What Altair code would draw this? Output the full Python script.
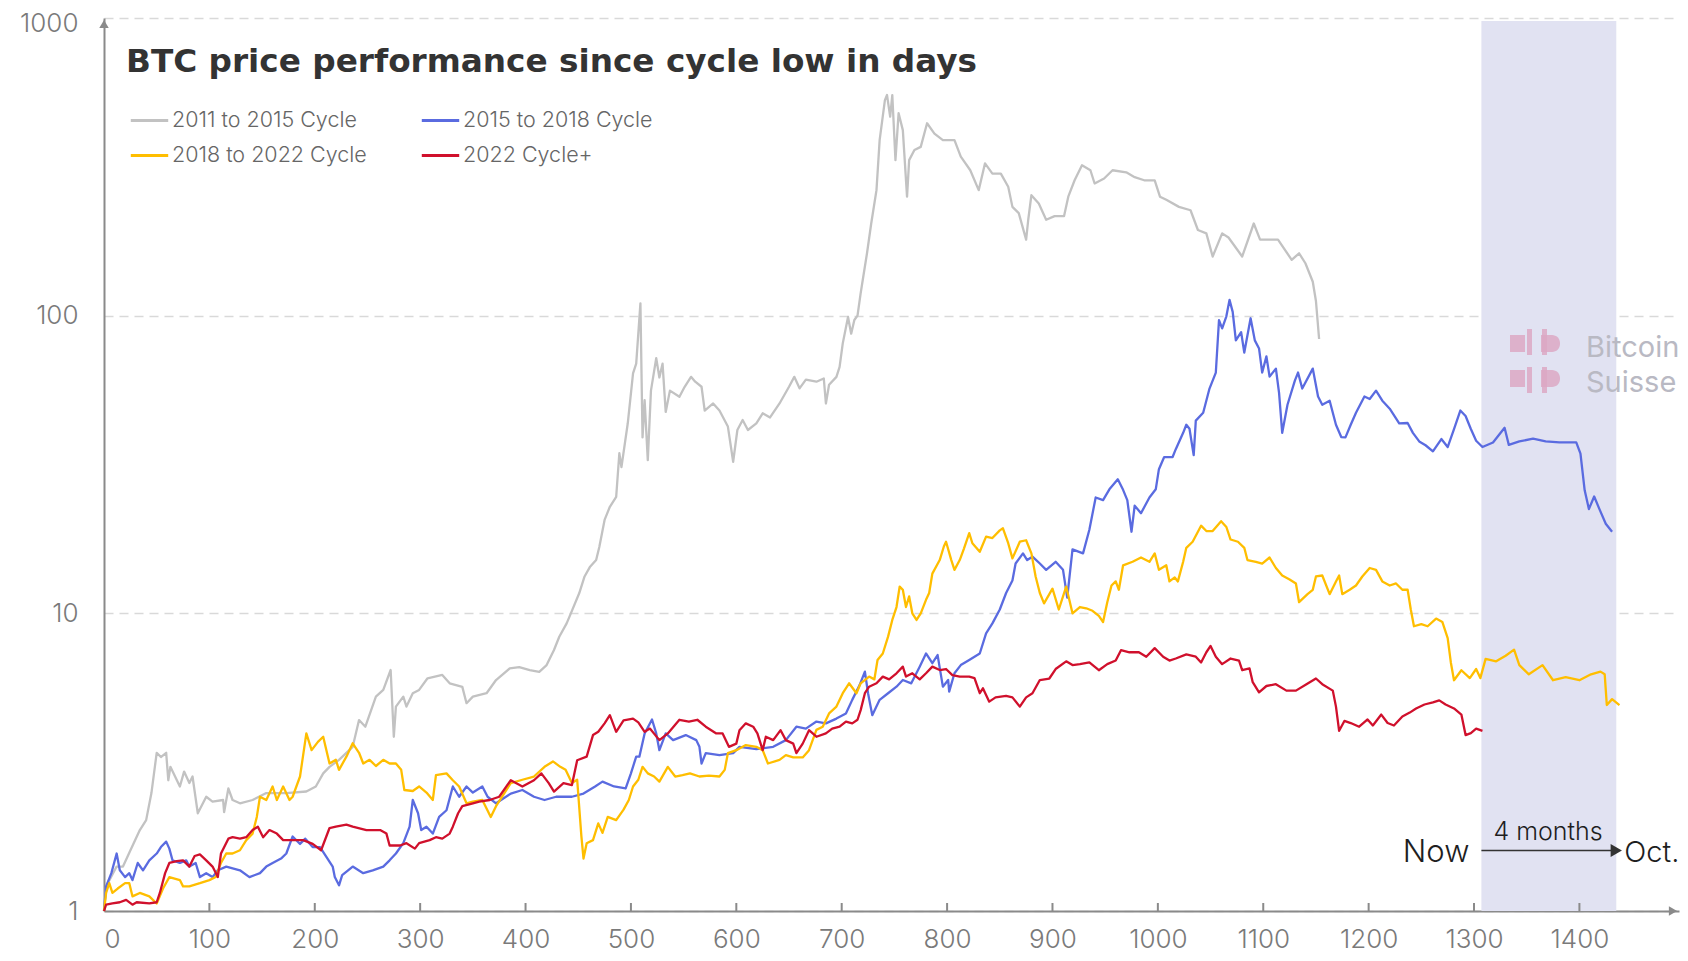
import altair as alt
import pandas as pd

series_names = ["2011 to 2015 Cycle", "2015 to 2018 Cycle", "2018 to 2022 Cycle", "2022 Cycle+"]
series_colors = ["#c2c2c2", "#5a6be0", "#ffbe00", "#d0102c"]

gray_days = [0, 2, 12, 18, 24, 34, 40, 45, 50, 54, 59, 61, 63, 72, 76, 81, 84, 89, 97, 103, 113, 114, 118, 122, 129, 141, 154, 173, 192, 201, 208, 214, 223, 236, 242, 248, 258, 265, 272, 275, 277, 284, 287, 293, 299, 307, 321, 328, 340, 344, 350, 363, 372, 385, 394, 404, 413, 420, 427, 432, 439, 443, 451, 456, 461, 467, 470, 475, 480, 486, 489, 491, 497, 502, 505, 509, 511, 513, 516, 519, 524, 527, 530, 533, 537, 546, 551, 557, 561, 567, 570, 578, 584, 592, 597, 601, 606, 611, 619, 625, 632, 641, 650, 655, 660, 666, 676, 683, 685, 688, 695, 698, 701, 706, 709, 712, 715, 718, 720, 724, 728, 733, 736, 741, 743, 746, 748, 751, 754, 758, 762, 764, 769, 775, 781, 788, 796, 807, 813, 822, 830, 836, 843, 851, 858, 862, 868, 875, 877, 880, 887, 894, 902, 911, 915, 921, 928, 936, 940, 949, 957, 970, 978, 987, 997, 1002, 1008, 1020, 1031, 1038, 1046, 1052, 1061, 1067, 1080, 1091, 1097, 1114, 1127, 1134, 1140, 1147, 1150, 1153]
gray_vals = [1.0, 1.21, 1.41, 1.41, 1.57, 1.87, 2.02, 2.49, 3.40, 3.29, 3.40, 2.75, 3.05, 2.62, 2.94, 2.69, 2.83, 2.13, 2.42, 2.33, 2.36, 2.15, 2.58, 2.36, 2.30, 2.36, 2.49, 2.49, 2.52, 2.62, 2.90, 3.05, 3.22, 3.56, 4.38, 4.16, 5.25, 5.53, 6.45, 3.85, 4.86, 5.25, 4.86, 5.39, 5.53, 6.05, 6.21, 5.82, 5.66, 4.99, 5.25, 5.39, 5.97, 6.53, 6.6, 6.45, 6.36, 6.7, 7.53, 8.34, 9.25, 10.0, 11.7, 13.3, 14.3, 15.1, 16.7, 20.6, 22.8, 24.6, 34.5, 31, 43.5, 64, 69, 110, 39, 52, 32.7, 56, 72, 62, 69, 47.5, 56, 53.4, 57.7, 62.3, 60, 57.7, 48, 50.7, 48, 42.4, 32.3, 41.3, 44.6, 41.3, 43.5, 47, 45.5, 50.7, 57.7, 62.3, 57, 61, 60, 61.5, 50.7, 58.6, 62.3, 67.3, 80.7, 99, 87, 96.7, 100, 119, 132, 162, 204, 264, 389, 530, 551, 466, 551, 333, 479, 420, 251, 333, 360, 369, 443, 409, 389, 389, 342, 308, 264, 325, 300, 300, 271, 232, 221, 180, 210, 254, 238, 210, 216, 216, 251, 285, 320, 308, 278, 289, 308, 303, 292, 285, 285, 251, 245, 232, 226, 194, 189, 158, 189, 183, 158, 204, 180, 180, 154, 162, 150, 130, 112, 83.5]

blue_days = [0, 2, 7, 12, 15, 20, 24, 27, 32, 37, 43, 50, 54, 59, 62, 65, 72, 78, 81, 87, 91, 97, 103, 108, 116, 129, 138, 148, 154, 160, 168, 173, 179, 186, 191, 198, 205, 211, 217, 219, 223, 226, 236, 246, 255, 265, 271, 277, 284, 290, 293, 298, 301, 306, 312, 318, 325, 331, 337, 344, 350, 359, 364, 372, 386, 397, 408, 418, 429, 444, 455, 466, 473, 484, 495, 500, 505, 508, 513, 520, 524, 527, 533, 540, 552, 562, 565, 567, 571, 584, 597, 603, 619, 635, 647, 657, 666, 676, 685, 695, 704, 710, 717, 722, 725, 729, 736, 744, 752, 758, 766, 774, 780, 786, 791, 796, 801, 802, 807, 813, 821, 831, 837, 843, 850, 856, 862, 865, 872, 876, 881, 888, 894, 903, 910, 914, 919, 929, 935, 941, 948, 954, 962, 967, 971, 975, 978, 984, 992, 998, 1001, 1006, 1014, 1017, 1024, 1027, 1030, 1034, 1036, 1043, 1049, 1055, 1058, 1061, 1065, 1068, 1071, 1074, 1079, 1082, 1088, 1092, 1096, 1099, 1103, 1106, 1112, 1115, 1118, 1123, 1130, 1133, 1137, 1147, 1152, 1156, 1163, 1169, 1174, 1178, 1183, 1188, 1196, 1201, 1207, 1213, 1220, 1229, 1237, 1242, 1248, 1254, 1261, 1269, 1275, 1281, 1287, 1292, 1297, 1302, 1308, 1318, 1329, 1333, 1343, 1356, 1368, 1381, 1397, 1401, 1405, 1409, 1414, 1419, 1425, 1431]
blue_vals = [1.0, 1.21, 1.34, 1.56, 1.37, 1.30, 1.34, 1.27, 1.45, 1.37, 1.48, 1.56, 1.64, 1.71, 1.62, 1.48, 1.45, 1.48, 1.41, 1.45, 1.30, 1.34, 1.30, 1.37, 1.41, 1.37, 1.30, 1.34, 1.41, 1.45, 1.50, 1.56, 1.78, 1.68, 1.75, 1.64, 1.64, 1.52, 1.41, 1.30, 1.22, 1.32, 1.41, 1.34, 1.37, 1.41, 1.48, 1.56, 1.69, 1.92, 2.36, 2.13, 1.87, 1.92, 1.82, 2.07, 2.18, 2.62, 2.42, 2.62, 2.5, 2.62, 2.42, 2.30, 2.48, 2.55, 2.42, 2.36, 2.42, 2.42, 2.48, 2.62, 2.72, 2.62, 2.58, 2.90, 3.3, 3.3, 3.95, 4.4, 3.95, 3.47, 3.95, 3.75, 3.9, 3.75, 3.56, 3.13, 3.39, 3.34, 3.39, 3.56, 3.5, 3.56, 3.75, 4.16, 4.1, 4.33, 4.27, 4.43, 4.61, 5.12, 5.74, 6.37, 5.39, 4.55, 5.12, 5.39, 5.67, 5.97, 5.82, 6.62, 7.33, 6.8, 7.24, 5.67, 5.97, 5.46, 6.29, 6.7, 6.97, 7.33, 8.57, 9.25, 10.3, 11.7, 12.9, 14.7, 15.9, 15.1, 15.5, 14.7, 14.0, 14.9, 14.0, 11.3, 16.4, 15.9, 19.1, 24.5, 24, 26.1, 28.2, 26, 24, 18.8, 23, 21.7, 24.5, 26.1, 30.5, 33.5, 33.5, 35.6, 40.4, 43, 41.7, 34, 44.4, 47.2, 56.9, 64.4, 96.5, 90.6, 99.5, 113, 103, 82.6, 88, 75.2, 98, 82.6, 77.6, 64.4, 73, 62.4, 66.4, 55, 40.4, 50.2, 60.5, 64.4, 56.9, 66.4, 53.5, 50.2, 51.8, 43, 39.1, 39, 43, 47.2, 53.5, 52.5, 56, 51.8, 48.7, 43.5, 43.6, 40.4, 37.8, 36.7, 35, 38.5, 36.2, 41.6, 48, 46, 41.6, 38, 36.2, 37.5, 42, 36.8, 37.8, 38.6, 37.8, 37.5, 37.5, 34.4, 25.9, 22.4, 24.7, 22.4, 20, 18.8]

yellow_days = [0, 2, 5, 8, 13, 20, 24, 27, 34, 43, 50, 56, 62, 72, 75, 81, 91, 100, 106, 111, 116, 122, 129, 135, 141, 145, 148, 154, 160, 164, 170, 176, 179, 186, 192, 197, 203, 208, 214, 220, 223, 230, 236, 242, 246, 252, 258, 265, 271, 277, 282, 285, 293, 299, 306, 312, 315, 325, 331, 337, 344, 350, 359, 367, 372, 386, 397, 408, 418, 426, 433, 438, 444, 449, 453, 455, 458, 464, 469, 473, 478, 486, 493, 498, 502, 507, 511, 516, 522, 527, 535, 542, 549, 556, 565, 574, 584, 589, 592, 600, 609, 619, 625, 630, 641, 647, 654, 663, 669, 676, 682, 688, 695, 701, 707, 714, 718, 726, 731, 734, 739, 744, 748, 752, 755, 758, 761, 764, 767, 771, 775, 780, 783, 786, 793, 797, 799, 804, 807, 812, 816, 821, 824, 831, 837, 843, 850, 853, 858, 862, 869, 875, 880, 884, 888, 892, 900, 906, 913, 919, 926, 932, 938, 944, 948, 952, 956, 960, 963, 967, 976, 984, 992, 997, 1001, 1008, 1011, 1016, 1019, 1024, 1027, 1033, 1041, 1046, 1052, 1060, 1065, 1069, 1076, 1082, 1085, 1093, 1099, 1106, 1112, 1118, 1125, 1131, 1134, 1142, 1147, 1150, 1156, 1163, 1169, 1172, 1175, 1182, 1188, 1194, 1201, 1207, 1213, 1220, 1226, 1232, 1237, 1240, 1243, 1250, 1256, 1264, 1270, 1275, 1278, 1281, 1288, 1296, 1302, 1306, 1311, 1321, 1330, 1338, 1343, 1352, 1365, 1375, 1387, 1400, 1411, 1420, 1424, 1426, 1431, 1438]
yellow_vals = [1.0, 1.15, 1.24, 1.15, 1.19, 1.24, 1.24, 1.12, 1.15, 1.12, 1.06, 1.19, 1.30, 1.27, 1.21, 1.21, 1.24, 1.27, 1.30, 1.45, 1.56, 1.56, 1.60, 1.73, 1.82, 2.07, 2.42, 2.36, 2.62, 2.36, 2.62, 2.36, 2.42, 2.83, 3.95, 3.47, 3.7, 3.85, 3.13, 3.22, 2.98, 3.3, 3.66, 3.4, 3.13, 3.22, 3.07, 3.22, 3.13, 3.13, 2.98, 2.55, 2.53, 2.62, 2.5, 2.36, 2.86, 2.9, 2.75, 2.62, 2.30, 2.33, 2.36, 2.07, 2.25, 2.69, 2.76, 2.83, 3.05, 3.18, 3.05, 2.98, 2.69, 2.76, 1.78, 1.50, 1.69, 1.73, 1.97, 1.83, 2.07, 2.02, 2.19, 2.36, 2.62, 2.76, 3.05, 2.9, 2.83, 2.72, 3.05, 2.83, 2.86, 2.9, 2.83, 2.85, 2.83, 2.98, 3.39, 3.47, 3.61, 3.56, 3.47, 3.13, 3.22, 3.34, 3.28, 3.28, 3.47, 4.06, 4.16, 4.61, 4.86, 5.39, 5.82, 5.39, 5.82, 6.13, 6.0, 6.97, 7.33, 8.35, 9.5, 10.5, 12.3, 12, 10.5, 11.4, 10, 9.5, 10, 11.1, 11.7, 13.6, 15.1, 16.8, 17.4, 15.1, 14, 15.1, 16.5, 18.6, 17.2, 16.1, 18.1, 17.9, 19, 19.3, 17.2, 15.3, 17.4, 17.6, 15.9, 13.3, 11.7, 10.8, 12.1, 10.3, 12.3, 10, 10.5, 10.4, 10.2, 9.8, 9.35, 10.9, 12.4, 12.8, 12, 14.5, 14.9, 15.4, 14.9, 15.9, 14, 14.5, 12.8, 13.2, 12.8, 14.9, 16.6, 17.4, 19.7, 18.9, 18.9, 20.4, 19.5, 17.7, 17.4, 16.6, 15.1, 14.9, 14.7, 15.4, 14.2, 13.4, 13, 12.6, 10.9, 11.6, 12, 13.3, 13.4, 11.6, 12.8, 13.4, 11.6, 12, 12.4, 13.3, 14.2, 14, 12.8, 12.4, 12.6, 12, 12, 10.3, 9.05, 9.2, 9.05, 9.6, 9.35, 8.26, 6.84, 5.96, 6.44, 6.06, 6.5, 6.06, 7.03, 6.9, 7.2, 7.55, 6.7, 6.24, 6.7, 5.96, 6.1, 5.96, 6.24, 6.37, 6.24, 4.92, 5.15, 4.92]

red_days = [0, 2, 8, 15, 21, 27, 31, 43, 50, 53, 58, 62, 69, 75, 81, 86, 91, 97, 103, 108, 111, 118, 122, 129, 135, 141, 146, 151, 157, 164, 170, 176, 183, 189, 198, 206, 214, 220, 230, 236, 249, 262, 268, 271, 281, 287, 295, 299, 309, 315, 321, 328, 331, 336, 340, 350, 356, 366, 375, 386, 397, 408, 415, 422, 427, 436, 444, 449, 458, 464, 469, 475, 480, 486, 493, 502, 507, 513, 518, 527, 535, 546, 555, 563, 571, 581, 587, 593, 600, 603, 609, 616, 620, 625, 628, 635, 642, 647, 654, 657, 663, 669, 676, 685, 691, 698, 704, 710, 715, 718, 722, 726, 733, 739, 745, 752, 758, 761, 767, 774, 780, 786, 793, 799, 805, 812, 821, 826, 831, 834, 840, 846, 856, 862, 869, 875, 881, 888, 897, 903, 913, 919, 926, 935, 944, 952, 960, 965, 973, 982, 989, 997, 1005, 1011, 1017, 1027, 1036, 1041, 1046, 1050, 1055, 1061, 1069, 1077, 1080, 1087, 1090, 1096, 1103, 1112, 1122, 1131, 1141, 1150, 1156, 1166, 1169, 1172, 1177, 1183, 1191, 1199, 1204, 1212, 1218, 1224, 1232, 1239, 1245, 1253, 1261, 1267, 1273, 1281, 1288, 1292, 1297, 1302, 1308]
red_vals = [1.0, 1.05, 1.06, 1.07, 1.09, 1.05, 1.07, 1.06, 1.07, 1.15, 1.34, 1.45, 1.47, 1.48, 1.41, 1.53, 1.55, 1.48, 1.41, 1.30, 1.56, 1.75, 1.77, 1.75, 1.77, 1.87, 1.92, 1.77, 1.87, 1.82, 1.73, 1.73, 1.73, 1.73, 1.68, 1.6, 1.9, 1.92, 1.95, 1.92, 1.87, 1.87, 1.82, 1.66, 1.66, 1.69, 1.62, 1.69, 1.73, 1.77, 1.75, 1.82, 1.92, 2.13, 2.25, 2.30, 2.33, 2.36, 2.42, 2.75, 2.62, 2.75, 2.9, 2.69, 2.52, 2.69, 2.65, 3.21, 3.3, 3.9, 4.0, 4.27, 4.55, 4.0, 4.37, 4.43, 4.3, 4.0, 4.1, 3.75, 3.95, 4.39, 4.33, 4.39, 4.16, 3.95, 3.95, 3.56, 3.65, 4.05, 4.27, 4.16, 3.95, 3.47, 3.85, 3.75, 4.05, 3.75, 3.65, 3.39, 3.65, 4.05, 3.85, 3.95, 4.1, 4.16, 4.33, 4.27, 4.39, 4.73, 5.39, 5.67, 5.82, 6.13, 6.0, 6.29, 6.62, 6.13, 6.29, 6.0, 6.29, 6.62, 6.45, 6.5, 6.2, 6.13, 6.13, 6.06, 5.39, 5.6, 5.05, 5.22, 5.28, 5.22, 4.86, 5.22, 5.39, 5.97, 6.04, 6.5, 6.9, 6.7, 6.75, 6.84, 6.44, 6.75, 6.94, 7.52, 7.4, 7.4, 7.15, 7.64, 7.15, 6.94, 7.05, 7.28, 7.15, 6.84, 7.4, 7.77, 7.15, 6.75, 7.05, 6.94, 6.44, 6.53, 5.87, 5.43, 5.7, 5.78, 5.5, 5.5, 5.78, 6.04, 5.78, 5.5, 4.86, 4.03, 4.35, 4.28, 4.16, 4.4, 4.2, 4.57, 4.28, 4.2, 4.5, 4.64, 4.79, 4.94, 5.02, 5.1, 4.94, 4.79, 4.57, 3.9, 3.96, 4.1, 4.03]

x_tick_values = list(range(0, 1500, 100))
y_tick_values = [1, 10, 100, 1000]
band_start = [1307]
band_end = [1435]
title_text = "BTC price performance since cycle low in days"

FONT = "Inter"

frames = []
for name, d, v in zip(series_names,
                      [gray_days, blue_days, yellow_days, red_days],
                      [gray_vals, blue_vals, yellow_vals, red_vals]):
    frames.append(pd.DataFrame({"day": d, "value": v, "series": name}))
df = pd.concat(frames, ignore_index=True)

xscale = alt.Scale(domain=[0, 1494.5], nice=False, zero=False)
yscale = alt.Scale(type="log", domain=[1, 1000], nice=False)

one = pd.DataFrame({"k": [0]})
band_df = pd.DataFrame({"start": band_start, "end": band_end})

band = alt.Chart(band_df).mark_rect(color="#e1e2f2").encode(
    x=alt.X("start:Q", scale=xscale),
    x2="end:Q",
    y=alt.value(3),
    y2=alt.value(893),
)

lines = alt.Chart(df).mark_line(strokeWidth=2.3, strokeJoin="round").encode(
    x=alt.X("day:Q", scale=xscale,
            axis=alt.Axis(values=x_tick_values, title=None, ticks=False, grid=False,
                          format="d",
                          labelFontSize=26, labelFont=FONT, labelFontWeight=300,
                          labelColor="#7a7a7a", labelPadding=15,
                          domainColor="#8a8a8a", domainWidth=2)),
    y=alt.Y("value:Q", scale=yscale,
            axis=alt.Axis(values=y_tick_values, title=None, ticks=False, grid=True,
                          gridColor="#d9d9d9", gridDash=[9, 6], gridWidth=1.5,
                          labelFontSize=26, labelFont=FONT, labelFontWeight=300,
                          labelColor="#7a7a7a", labelPadding=26,
                          labelOffset={"condition": {"test": "datum.value >= 1000", "value": 5},
                                       "value": 0},
                          format="d",
                          domainColor="#8a8a8a", domainWidth=2)),
    color=alt.Color("series:N",
                    scale=alt.Scale(domain=series_names, range=series_colors),
                    legend=alt.Legend(orient="none", legendX=25, legendY=82, columns=2,
                                      direction="horizontal",
                                      title=None, symbolType="stroke", symbolSize=1400,
                                      symbolStrokeWidth=3, labelFontSize=21.5,
                                      labelFont=FONT, labelFontWeight=300,
                                      labelColor="#666666", labelOffset=2, labelLimit=0,
                                      columnPadding=48, rowPadding=4)),
    order=alt.Order("day:Q"),
)

tick_df = pd.DataFrame({"t": x_tick_values[1:]})
ticks = alt.Chart(tick_df).mark_rule(color="#8a8a8a", strokeWidth=2).encode(
    x=alt.X("t:Q", scale=xscale), y=alt.value(885), y2=alt.value(893))

y_arrow = alt.Chart(one).mark_point(shape="triangle-up", filled=True, color="#8a8a8a",
                                    size=90, opacity=1).encode(
    x=alt.value(0), y=alt.value(6))
x_arrow = alt.Chart(one).mark_point(shape="triangle-right", filled=True, color="#8a8a8a",
                                    size=90, opacity=1).encode(
    x=alt.value(1569), y=alt.value(893))

arrow_line = alt.Chart(band_df).mark_rule(color="#333333", strokeWidth=1.5).encode(
    x=alt.X("start:Q", scale=xscale), x2="end:Q", y=alt.value(832.5))
arrow_head = alt.Chart(band_df).mark_point(shape="triangle-right", filled=True,
                                           color="#333333", size=170, opacity=1).encode(
    x=alt.X("end:Q", scale=xscale), y=alt.value(832.5))

now_txt = alt.Chart(band_df).mark_text(text="Now", align="right", baseline="alphabetic",
                                       fontSize=31, font=FONT, fontWeight=300,
                                       color="#1e1e1e", dx=-12).encode(
    x=alt.X("start:Q", scale=xscale), y=alt.value(844))
oct_txt = alt.Chart(band_df).mark_text(text="Oct.", align="left", baseline="alphabetic",
                                       fontSize=29, font=FONT, fontWeight=300,
                                       color="#1e1e1e", dx=8).encode(
    x=alt.X("end:Q", scale=xscale), y=alt.value(844))
months_txt = alt.Chart(one).mark_text(text="4 months", align="center", baseline="alphabetic",
                                      fontSize=25, font=FONT, fontWeight=300,
                                      color="#1e1e1e").encode(
    x=alt.value(1444), y=alt.value(822))

title = alt.Chart(one).mark_text(text=title_text, align="left", baseline="alphabetic",
                                 fontSize=32.7, font="DejaVu Sans", fontWeight="bold",
                                 color="#333333").encode(
    x=alt.value(22), y=alt.value(54))

logo_color = "#dca8c4"
def prect(x1, x2, y1, y2, **kw):
    return alt.Chart(one).mark_rect(color=logo_color, opacity=0.85, **kw).encode(
        x=alt.value(x1), x2=alt.value(x2), y=alt.value(y1), y2=alt.value(y2))

logo = [
    prect(1406, 1421, 317, 334),
    prect(1437, 1456, 317, 334, cornerRadiusTopRight=8, cornerRadiusBottomRight=8),
    prect(1423, 1428, 311, 337),
    prect(1438, 1443, 311, 337),
    prect(1406, 1421, 352, 369),
    prect(1437, 1456, 352, 369, cornerRadiusTopRight=8, cornerRadiusBottomRight=8),
    prect(1423, 1428, 349, 375),
    prect(1438, 1443, 349, 375),
]
wm1 = alt.Chart(one).mark_text(text="Bitcoin", align="left", baseline="alphabetic",
                               fontSize=29, font=FONT, color="#b9b9c3").encode(
    x=alt.value(1482), y=alt.value(339))
wm2 = alt.Chart(one).mark_text(text="Suisse", align="left", baseline="alphabetic",
                               fontSize=29, font=FONT, color="#b9b9c3").encode(
    x=alt.value(1482), y=alt.value(374))

chart = alt.layer(
    band, *logo, wm1, wm2, lines, ticks, y_arrow, x_arrow,
    arrow_line, arrow_head, now_txt, oct_txt, months_txt, title
).properties(
    width=1575, height=893,
    autosize=alt.AutoSizeParams(type="none"),
    padding={"left": 96, "top": 10, "right": 1, "bottom": 42},
    background="white",
).configure_view(stroke=None)

chart.save("out.html", embed_options={"renderer": "svg", "actions": False})
